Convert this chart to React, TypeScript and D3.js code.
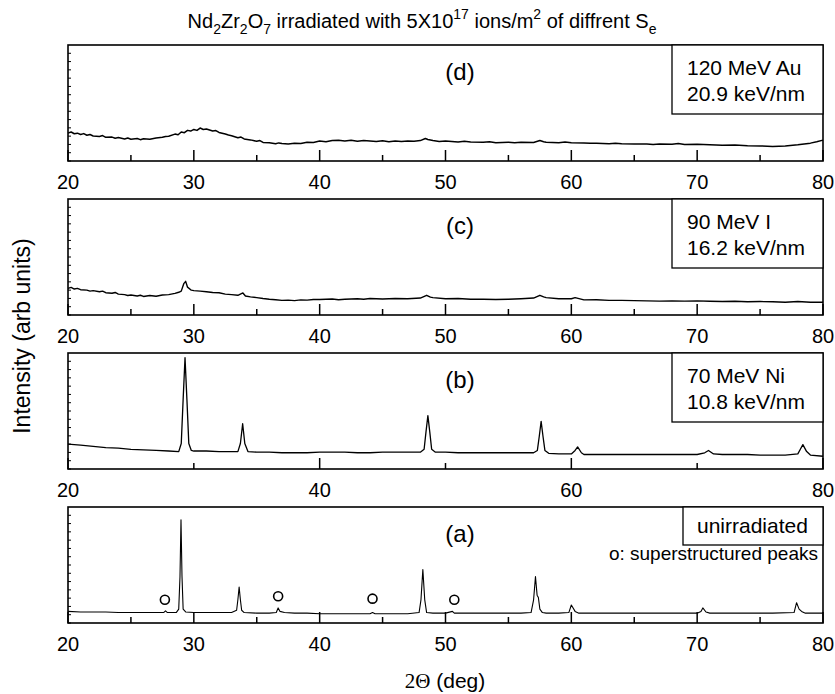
import * as d3 from 'd3'

// XRD patterns: [2theta, intensity in % of panel height]
const xrdD: [number, number][] = [
  [20, 24], [20.25, 25], [20.5, 23.5], [20.75, 24], [21, 22.8], [21.25, 23.6], [21.5, 22.2], [21.75, 22.8],
  [22, 21.6], [22.5, 21.2], [22.75, 21.9], [23, 20.4], [23.5, 20.6], [23.75, 19.6], [24, 20.2], [24.5, 19],
  [24.75, 19.8], [25, 18.8], [25.5, 19.4], [25.75, 18.4], [26, 19.2], [26.5, 18.8], [27, 19.8], [27.5, 20.4],
  [27.75, 21.2], [28, 21.4], [28.5, 23.2], [28.75, 22.6], [29, 25], [29.25, 24.4], [29.5, 26.4], [29.75, 25.8],
  [30, 27.2], [30.25, 26.4], [30.5, 28.4], [30.75, 27.2], [31, 27.6], [31.5, 25.8], [31.75, 26.2], [32, 24.6],
  [32.5, 23.2], [32.75, 22.4], [33, 21.8], [33.5, 20], [33.75, 20.6], [34, 19], [34.5, 18.2], [35, 17],
  [35.25, 17.6], [35.5, 16], [36, 15.8], [36.5, 14.8], [36.75, 15.6], [37, 15], [37.5, 14.6], [38, 15.4],
  [38.5, 15], [39, 16.2], [39.5, 16], [40, 17.2], [40.5, 16.6], [41, 17.6], [41.5, 17.8], [42, 17.2],
  [42.5, 17.8], [43, 17], [43.5, 17.6], [44, 17.2], [44.5, 16.8], [45, 17.4], [45.5, 16.6], [46, 17.2],
  [46.5, 16.8], [47, 17.2], [47.5, 17], [48, 17.6], [48.4, 19.4], [48.6, 18.6], [49, 17.6], [49.5, 16.8],
  [50, 17.2], [51, 16.4], [51.5, 17], [52, 16.4], [53, 16.2], [53.5, 16.6], [54, 15.8], [55, 16.2],
  [55.5, 15.8], [56, 16.2], [57, 16], [57.5, 17.6], [57.8, 16.6], [58, 16.2], [59, 15.8], [59.5, 16.4],
  [60, 15.8], [61, 15.6], [61.5, 15.2], [62, 15.4], [63, 14.8], [63.5, 15.2], [64, 14.8], [65, 14.6],
  [66, 14.6], [66.5, 14.2], [67, 14.6], [68, 14.4], [68.5, 15], [69, 14.2], [70, 14.4], [71, 14],
  [72, 13.6], [73, 13.8], [74, 13.2], [75, 13], [76, 12.6], [77, 13], [78, 14], [79, 15.4],
  [79.5, 16.6], [80, 18],
]

const xrdC: [number, number][] = [
  [20, 23], [20.25, 23.8], [20.5, 22.4], [20.75, 22.9], [21, 21.8], [21.5, 21.4], [21.75, 20.6], [22, 21],
  [22.5, 20], [22.75, 20.6], [23, 19.2], [23.5, 18.8], [23.75, 19.4], [24, 18], [24.5, 17.6], [24.75, 16.8],
  [25, 17.2], [25.5, 16.4], [25.75, 17], [26, 16], [26.5, 16.8], [27, 16.2], [27.5, 17.2], [28, 17.6],
  [28.5, 18.6], [28.8, 19.6], [29, 20.6], [29.2, 27], [29.35, 29], [29.5, 24], [29.8, 21.4], [30, 21],
  [30.5, 20.6], [31, 20], [31.5, 19.4], [32, 19.2], [32.5, 18], [33, 17.6], [33.5, 17], [33.9, 19],
  [34.1, 16.4], [34.5, 15.6], [35, 15], [35.5, 14.2], [36, 13.6], [36.5, 13.2], [37, 12.6], [37.5, 12.8],
  [38, 12.4], [38.5, 13], [39, 12.8], [39.5, 13.4], [40, 13.4], [41, 13.8], [41.5, 13.2], [42, 13.6],
  [43, 14], [43.5, 13.6], [44, 14.2], [45, 13.8], [46, 14.2], [47, 14], [48, 14.6], [48.5, 17],
  [48.8, 15.4], [49, 15], [50, 14], [51, 14.2], [52, 13.6], [53, 13.6], [54, 13.4], [55, 13.6],
  [56, 14], [57, 14.6], [57.5, 17], [57.8, 15.6], [58, 15], [59, 14], [60, 14], [60.3, 15],
  [61, 13], [62, 13.2], [63, 12.6], [64, 12.6], [65, 12.4], [66, 12.2], [67, 12], [68, 12.2],
  [69, 12], [70, 12.2], [71, 11.8], [72, 11.6], [73, 11.8], [74, 11.4], [75, 11.6], [76, 11.4],
  [77, 11], [78, 11.6], [79, 11], [80, 11],
]

const xrdB: [number, number][] = [
  [20, 21.5], [21, 20.5], [22, 19.5], [23, 18.5], [24, 18], [25, 17], [26, 16.5], [27, 16],
  [28, 15.5], [28.8, 15], [29.0, 22], [29.15, 60], [29.3, 96], [29.45, 60], [29.6, 22], [29.8, 16],
  [30, 15.5], [31, 15.5], [32, 15], [33, 15], [33.5, 15], [33.7, 22], [33.88, 39], [34.05, 22],
  [34.3, 15], [35, 14.5], [36, 14.5], [37, 14], [38, 14], [39, 14], [40, 14.5], [41, 14.5],
  [42, 14.5], [43, 14], [44, 14], [45, 14.5], [46, 14.5], [47, 14.5], [48, 14.5], [48.3, 17],
  [48.45, 32], [48.6, 46], [48.75, 32], [48.9, 17], [49.2, 14.5], [50, 14.5], [51, 14], [52, 14],
  [53, 14], [54, 14], [55, 14], [56, 14], [57, 14], [57.3, 16], [57.45, 28], [57.6, 41],
  [57.75, 28], [57.9, 16], [58.2, 13.5], [59, 13], [60, 13], [60.3, 16], [60.5, 19], [60.8, 14],
  [61, 12.5], [62, 12.5], [63, 12.5], [64, 12.5], [65, 12.5], [66, 12.5], [67, 12.5], [68, 12.5],
  [69, 12.5], [70, 12.5], [70.6, 14], [70.9, 16], [71.3, 13], [72, 12.5], [73, 12.5], [74, 12.5],
  [75, 12], [76, 12], [77, 12], [78, 13], [78.2, 17], [78.4, 21], [78.7, 15], [79, 12], [80, 11],
]

const xrdA: [number, number][] = [
  [20, 10], [21, 9.5], [22, 9.5], [23, 9.5], [24, 9], [25, 9], [26, 9], [27, 9],
  [27.6, 9], [27.75, 10.5], [27.9, 9], [28.6, 9], [28.8, 12], [28.9, 40], [28.98, 89], [29.06, 40],
  [29.15, 12], [29.35, 9.5], [30, 9], [31, 9], [32, 9], [33, 9], [33.4, 11], [33.5, 20],
  [33.6, 31], [33.7, 20], [33.8, 11], [34, 9], [35, 8.5], [36, 8.5], [36.55, 9], [36.7, 13],
  [36.85, 10], [37.2, 9], [38, 8.5], [39, 8.5], [40, 8], [41, 8], [42, 8], [43, 8],
  [44, 8], [44.2, 9], [44.4, 8], [45, 8], [46, 8], [47, 8], [47.9, 9], [48.05, 20],
  [48.2, 46], [48.35, 20], [48.5, 9], [49, 8.5], [50, 8.5], [50.55, 10], [50.7, 8.5], [52, 8.5],
  [53, 8.5], [54, 8.5], [55, 8.5], [56, 8.5], [56.8, 9], [57.0, 20], [57.15, 40], [57.28, 24],
  [57.38, 22], [57.5, 12], [57.7, 9], [58, 8.5], [59, 8.5], [59.8, 9], [60.0, 15.5], [60.3, 10],
  [60.6, 8.5], [62, 8.5], [64, 8.5], [66, 8.5], [68, 8.5], [70, 8.5], [70.3, 10], [70.45, 13],
  [70.7, 9.5], [71, 8.5], [72, 8.5], [74, 8.5], [76, 8.5], [77.7, 9], [77.9, 17.5], [78.1, 12],
  [78.3, 10], [78.6, 8.5], [80, 8.5],
]

// superstructure peak markers in (a)
const superPeaks: [number, number][] = [[27.7, 20], [36.7, 23], [44.2, 21], [50.7, 20]]

const panelLabels = ['(d)', '(c)', '(b)', '(a)']
const ionLines = [
  ['120 MeV Au', '20.9 keV/nm'],
  ['90 MeV I', '16.2 keV/nm'],
  ['70 MeV Ni', '10.8 keV/nm'],
  ['unirradiated'],
]
const tickLabels = [
  [20, 30, 40, 50, 60, 70, 80],
  [20, 30, 40, 50, 60, 70, 80],
  [20, 40, 60, 80],
  [20, 30, 40, 50, 60, 70, 80],
]
const minorStep = [5, 5, 10, 5]

const W = 835
const H = 694
const font = 'Arial, "Liberation Sans", Helvetica, sans-serif'

export default function App() {
  const series = [xrdD, xrdC, xrdB, xrdA]
  const tops = [45, 199, 353, 507]
  const strokes = [1.5, 1.4, 1.3, 1.1]
  const ph = 116
  const left = 68
  const right = 823

  const x = d3.scaleLinear().domain([20, 80]).range([left, right])
  const yTicks = d3.range(0, 14).map(i => (i * 100) / 14)

  return (
    <svg width={W} height={H} style={{ position: 'absolute', left: 0, top: 0, background: '#fff' }} fontFamily={font}>
      <text x={422} y={28} fontSize={20} textAnchor="middle">
        <tspan>Nd</tspan><tspan fontSize={14} dy={6}>2</tspan>
        <tspan dy={-6}>Zr</tspan><tspan fontSize={14} dy={6}>2</tspan>
        <tspan dy={-6}>O</tspan><tspan fontSize={14} dy={6}>7</tspan>
        <tspan dy={-6}> irradiated with 5X10</tspan><tspan fontSize={14} dy={-9}>17</tspan>
        <tspan dy={9}> ions/m</tspan><tspan fontSize={14} dy={-9}>2</tspan>
        <tspan dy={9}> of diffrent S</tspan><tspan fontSize={14} dy={6}>e</tspan>
      </text>

      {series.map((data, i) => {
        const top = tops[i]
        const bottom = top + ph
        const y = d3.scaleLinear().domain([0, 100]).range([bottom, top])
        const line = d3.line<[number, number]>().x(d => x(d[0])).y(d => y(d[1]))
        const majors = tickLabels[i]
        const minors = d3.range(20 + minorStep[i], 80, minorStep[i] * 2)
        const lines = ionLines[i]
        const boxLeft = i === 3 ? 683 : 672
        const boxH = i === 3 ? 38 : 69
        return (
          <g key={i}>
            <path d={line(data) || ''} fill="none" stroke="#000" strokeWidth={strokes[i]} strokeLinejoin="round" />
            <rect x={left} y={top} width={right - left} height={ph} fill="none" stroke="#000" strokeWidth={1.6} />
            {yTicks.map(t => (
              <line key={t} x1={left} x2={left + 3} y1={y(t)} y2={y(t)} stroke="#000" strokeWidth={1} />
            ))}
            {majors.map(t => (
              <g key={t}>
                <line x1={x(t)} x2={x(t)} y1={bottom} y2={bottom - 11} stroke="#000" strokeWidth={1.5} />
                <text x={x(t)} y={bottom + 28} fontSize={20} textAnchor="middle">{t}</text>
              </g>
            ))}
            {minors.map(t => (
              <line key={t} x1={x(t)} x2={x(t)} y1={bottom} y2={bottom - 6} stroke="#000" strokeWidth={1.5} />
            ))}
            <text x={460} y={top + 35} fontSize={24} textAnchor="middle">{panelLabels[i]}</text>
            <rect x={boxLeft} y={top} width={right - boxLeft} height={boxH} fill="#fff" stroke="#000" strokeWidth={1.3} />
            {lines.map((s, k) => (
              <text key={s} x={i === 3 ? 697 : 687} y={top + (i === 3 ? 26 : 30 + k * 26)} fontSize={21}>{s}</text>
            ))}
            {i === 3 && (
              <>
                <text x={818} y={top + 53} fontSize={19} textAnchor="end">o: superstructured peaks</text>
                {superPeaks.map(p => (
                  <circle key={p[0]} cx={x(p[0])} cy={y(p[1])} r={4.5} fill="none" stroke="#000" strokeWidth={1.6} />
                ))}
              </>
            )}
          </g>
        )
      })}

      <text transform="translate(30,336) rotate(-90)" fontSize={23} textAnchor="middle">Intensity (arb units)</text>
      <text x={445} y={688} fontSize={21} textAnchor="middle">
        <tspan fontFamily='"Liberation Serif", "Times New Roman", serif'>2Θ</tspan>
        <tspan> (deg)</tspan>
      </text>
    </svg>
  )
}
